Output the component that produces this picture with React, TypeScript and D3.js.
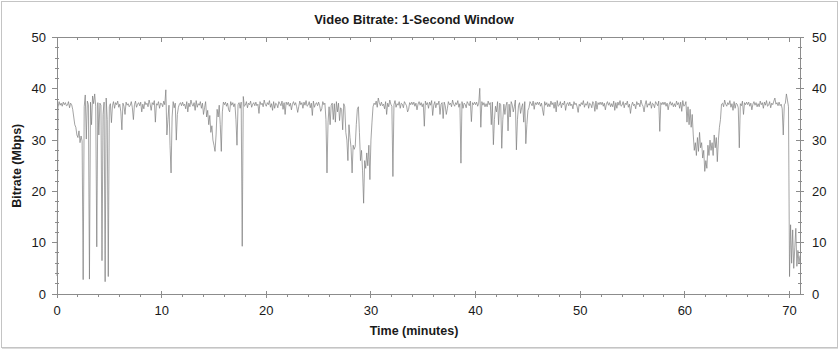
import React from 'react';
import * as d3 from 'd3';

// Bitrate samples (Mbps), one every 0.1 minute, grouped by 10-minute block
const seg00 = [
  3.5,36.4,37.5,36.8,37.2,36.6,37.4,36.9,37.3,36.7,
  36.8,37.5,36.3,37.2,36.9,36.0,34.5,33.0,32.5,31.0,
  30.5,31.8,29.5,30.8,29.8,2.8,36.5,38.8,30.2,37.6,
  36.9,2.9,37.4,33.0,38.6,37.1,39.0,36.6,9.2,37.3,
  31.0,37.2,36.8,6.5,35.0,37.4,2.4,38.2,34.0,3.4,
  36.5,37.1,33.4,36.7,37.5,36.2,37.3,36.9,37.6,36.4,
  37.0,35.5,32.0,37.2,36.6,35.0,37.4,36.8,37.1,36.5,
  36.8,37.5,36.3,34.0,36.9,37.6,36.4,37.0,37.3,36.7,
  37.4,35.5,37.0,36.1,37.5,36.9,37.2,36.5,37.8,37.0,
  35.8,37.3,36.9,37.7,33.5,37.1,36.8,37.5,36.2,37.2,
];
const seg10 = [
  37.1,36.5,37.6,36.9,39.8,31.0,34.0,36.8,29.0,23.6,
  34.5,37.5,36.3,37.2,30.0,35.0,36.4,37.0,37.3,36.7,
  37.4,36.7,37.0,36.1,37.5,35.5,37.2,36.5,37.8,37.0,
  36.6,37.3,35.8,37.7,36.4,37.1,36.8,37.5,36.2,37.2,
  35.0,36.3,37.5,34.5,35.8,33.0,34.8,31.5,32.8,30.0,
  29.0,27.8,31.0,36.0,34.5,36.8,33.0,27.8,35.5,37.4,
  36.9,37.4,36.6,37.2,35.9,35.5,37.5,36.8,37.3,36.5,
  37.1,34.0,29.0,36.9,37.3,36.2,37.4,9.3,38.5,36.6,
  36.8,37.5,36.3,37.2,36.9,37.6,36.4,37.0,37.3,36.7,
  37.4,36.7,37.0,35.2,37.5,36.9,37.2,36.5,37.8,37.0,
];
const seg20 = [
  36.6,37.3,36.9,37.7,36.4,37.1,35.8,37.5,36.2,37.2,
  37.0,36.3,37.5,37.1,36.7,37.6,36.0,37.3,35.0,37.4,
  36.9,37.4,36.6,37.2,35.9,37.0,37.5,36.8,37.3,36.5,
  35.4,36.5,37.6,36.9,37.3,36.2,37.4,36.8,37.7,36.6,
  36.8,37.5,36.3,37.2,34.8,37.6,36.4,37.0,37.3,36.7,
  37.4,36.7,35.6,36.1,37.5,36.9,37.2,34.0,23.6,33.5,
  36.5,33.0,36.8,37.2,34.0,37.1,33.5,37.5,35.5,37.2,
  33.8,36.3,36.0,32.0,37.1,36.5,31.5,30.0,26.0,33.0,
  30.5,28.5,23.6,29.0,28.2,28.8,33.0,36.0,36.5,31.5,
  26.0,28.0,24.0,17.7,26.0,24.5,27.5,25.0,29.0,22.3,
];
const seg30 = [
  30.0,33.5,36.5,37.2,36.9,37.6,36.4,38.2,37.3,36.7,
  37.4,36.7,37.0,36.1,37.5,35.0,37.2,36.5,37.8,37.0,
  36.6,22.9,36.9,37.7,36.4,37.1,36.8,37.5,36.2,37.2,
  37.0,36.3,37.5,37.1,36.7,35.5,36.0,37.3,36.9,37.4,
  36.9,37.4,36.6,37.2,35.9,37.0,37.5,36.8,37.3,36.5,
  37.1,32.7,37.6,36.9,37.3,36.2,37.4,36.8,37.7,34.8,
  36.8,37.5,36.3,37.2,36.9,37.6,35.0,37.0,37.3,34.2,
  37.4,36.7,35.0,36.1,37.5,36.9,37.2,36.5,37.8,37.0,
  36.6,37.3,36.9,37.7,36.4,37.1,25.5,37.5,36.2,37.2,
  37.0,36.3,37.5,37.1,36.7,37.6,33.6,37.3,36.9,37.4,
];
const seg40 = [
  36.9,37.4,36.6,37.2,40.1,32.5,37.5,36.8,37.3,36.5,
  37.1,36.5,37.6,36.9,37.3,33.0,37.4,29.1,34.0,36.6,
  35.5,37.5,33.0,37.2,36.9,28.4,34.0,37.0,35.0,36.7,
  37.4,31.8,37.0,34.5,37.5,36.9,35.5,36.5,37.8,28.1,
  34.0,36.7,37.3,35.2,36.4,37.1,33.5,37.5,29.3,33.0,
  35.8,36.3,37.5,37.1,36.7,37.6,36.0,37.3,36.9,37.4,
  36.9,37.4,36.6,37.2,35.9,34.8,37.5,36.8,37.3,36.5,
  37.1,36.5,37.6,36.9,37.3,36.2,37.4,35.5,37.7,36.6,
  36.8,37.5,36.3,37.2,36.9,37.6,35.8,37.0,37.3,36.7,
  37.4,36.7,37.0,36.1,37.5,36.9,37.2,36.5,35.4,37.0,
];
const seg50 = [
  36.6,37.3,36.9,37.7,36.4,37.1,36.8,37.5,36.2,37.2,
  37.0,36.3,37.5,37.1,35.6,37.6,36.0,37.3,36.9,37.4,
  36.9,37.4,36.6,37.2,35.9,37.0,37.5,36.8,37.3,36.5,
  37.1,36.5,37.6,35.8,37.3,36.2,37.4,36.8,37.7,36.6,
  36.8,37.5,36.3,37.2,36.9,37.6,36.4,37.0,35.2,36.7,
  37.4,36.7,37.0,36.1,37.5,36.9,37.2,36.5,37.8,37.0,
  36.6,35.5,36.9,37.7,36.4,37.1,36.8,37.5,36.2,37.2,
  37.0,36.3,37.5,37.1,36.7,37.6,31.7,37.3,36.9,37.4,
  36.9,37.4,36.6,37.2,35.9,37.0,37.5,36.8,37.3,36.5,
  37.1,36.5,37.6,36.9,37.3,36.2,37.4,35.6,37.7,36.6,
];
const seg60 = [
  36.8,37.5,33.5,36.5,33.0,36.0,32.5,35.0,31.0,28.0,
  29.5,27.0,30.5,27.8,31.5,28.5,29.5,26.5,28.0,23.9,
  26.0,24.5,29.0,27.0,30.0,28.0,29.5,27.0,31.0,28.5,
  30.5,25.8,30.0,32.5,34.0,37.0,37.2,36.5,37.8,37.0,
  36.6,37.3,36.9,37.7,36.4,37.1,35.8,37.5,36.2,37.2,
  37.0,36.3,28.5,37.1,36.7,37.6,35.0,37.3,36.9,37.4,
  36.9,37.4,36.6,37.2,35.9,37.0,37.5,36.8,37.3,36.5,
  37.1,36.5,37.6,36.9,37.3,36.2,37.4,36.8,37.7,36.6,
  36.8,37.5,36.3,37.2,36.9,37.6,38.2,37.0,37.3,36.7,
  37.4,36.7,37.0,36.1,31.0,36.9,37.2,39.0,37.8,36.5,
];
const seg70 = [3.4,13.5,6.0,12.5,5.0,9.0,12.8,5.4,8.5,6.0,7.5];

const bitrate = [...seg00, ...seg10, ...seg20, ...seg30, ...seg40, ...seg50, ...seg60, ...seg70];
const SAMPLE_MINUTES = 0.1;

const xMajorTicks = [0, 10, 20, 30, 40, 50, 60, 70];
const yMajorTicks = [0, 10, 20, 30, 40, 50];
const title = 'Video Bitrate: 1-Second Window';
const xLabel = 'Time (minutes)';
const yLabel = 'Bitrate (Mbps)';

export default function App() {
  const W = 840, H = 351;
  const left = 57, right = 800, top = 37.5, bottom = 294;
  const x = d3.scaleLinear().domain([0, 71]).range([left, right]);
  const y = d3.scaleLinear().domain([0, 50]).range([bottom, top]);
  const line = d3.line<number>().x((_, i) => x(i * SAMPLE_MINUTES)).y(d => y(d));
  const xMinor = d3.range(0, 71, 2).filter(v => v % 10 !== 0);
  const yMinor = d3.range(0, 50, 2).filter(v => v % 10 !== 0);
  const axisColor = '#8c8c8c';
  const font = 'Arial, "Liberation Sans", sans-serif';
  const textColor = '#1a1a1a';

  return (
    <svg width={W} height={H} style={{ position: 'absolute', left: 0, top: 0, background: '#fff' }} fontFamily={font}>
      <rect x={0} y={0} width={W} height={H} fill="#fff" />
      <rect x={1.5} y={1.5} width={836} height={346} fill="none" stroke="#c4c4c4" />
      <line x1={2} x2={838} y1={348.5} y2={348.5} stroke="#dcdcdc" />
      <text x={414} y={24} textAnchor="middle" fontSize={13} fontWeight="bold" fill={textColor}>{title}</text>

      {/* data line */}
      <path d={line(bitrate) || ''} fill="none" stroke="#7d7d7d" strokeWidth={0.7} strokeLinejoin="round" />

      {/* frame */}
      <g stroke={axisColor} strokeWidth={1} shapeRendering="crispEdges">
        <line x1={left} x2={right} y1={top} y2={top} />
        <line x1={left} x2={right} y1={bottom} y2={bottom} />
        <line x1={left} x2={left} y1={top} y2={bottom} />
        <line x1={right} x2={right} y1={top} y2={bottom} />
        {xMajorTicks.map(v => (
          <g key={'xM' + v}>
            <line x1={x(v)} x2={x(v)} y1={bottom - 3} y2={bottom + 4} />
            <line x1={x(v)} x2={x(v)} y1={top} y2={top + 4} />
          </g>
        ))}
        {xMinor.map(v => (
          <g key={'xm' + v}>
            <line x1={x(v)} x2={x(v)} y1={bottom} y2={bottom + 3} />
            <line x1={x(v)} x2={x(v)} y1={top} y2={top + 2.5} />
          </g>
        ))}
        {yMajorTicks.map(v => (
          <g key={'yM' + v}>
            <line x1={left - 5} x2={left} y1={y(v)} y2={y(v)} />
            <line x1={right - 4} x2={right + 4} y1={y(v)} y2={y(v)} />
          </g>
        ))}
        {yMinor.map(v => (
          <g key={'ym' + v}>
            <line x1={left - 2.5} x2={left + 2} y1={y(v)} y2={y(v)} />
            <line x1={right - 2} x2={right + 2} y1={y(v)} y2={y(v)} />
          </g>
        ))}
      </g>

      {/* tick labels */}
      {yMajorTicks.map(v => (
        <g key={'yl' + v} fontSize={13} fill={textColor}>
          <text x={46} y={y(v)} dy="0.36em" textAnchor="end">{v}</text>
          <text x={812} y={y(v)} dy="0.36em" textAnchor="start">{v}</text>
        </g>
      ))}
      {xMajorTicks.map(v => (
        <text key={'xl' + v} x={x(v)} y={315} textAnchor="middle" fontSize={13} fill={textColor}>{v}</text>
      ))}
      <text x={414} y={335} textAnchor="middle" fontSize={12.5} fontWeight="bold" fill={textColor}>{xLabel}</text>
      <text transform={`translate(21,${(top + bottom) / 2}) rotate(-90)`} textAnchor="middle" fontSize={12.5} fontWeight="bold" fill={textColor}>{yLabel}</text>
    </svg>
  );
}
